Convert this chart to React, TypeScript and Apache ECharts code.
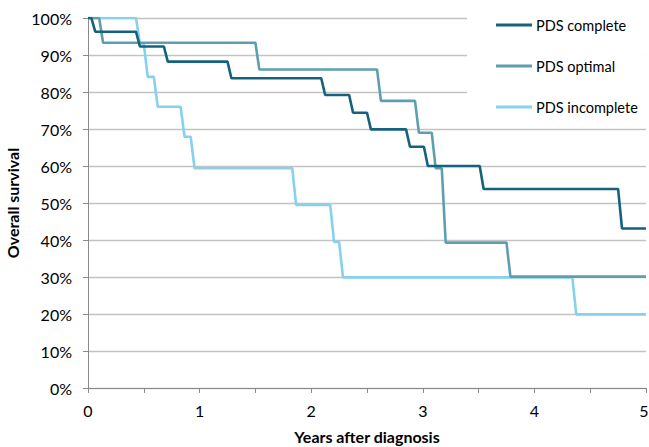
import React, { useEffect, useRef } from "react";
import * as echarts from "echarts";

// Kaplan-Meier step data: time of each drop (years) and survival (%) after it
const completeTimes = [0, 0.03, 0.43, 0.68, 1.25, 2.09, 2.34, 2.5, 2.85, 3.01, 3.51, 4.75];
const completeValues = [100, 96.3, 92.3, 88.2, 83.7, 79.2, 74.4, 69.9, 65.2, 60.0, 53.8, 43.1];

const optimalTimes = [0, 0.1, 1.5, 2.59, 2.93, 3.08, 3.17, 3.75];
const optimalValues = [100, 93.3, 86.1, 77.6, 69.0, 59.4, 39.3, 30.1];

const incompleteTimes = [0, 0.43, 0.5, 0.59, 0.83, 0.92, 1.83, 2.17, 2.25, 4.34];
const incompleteValues = [100, 93.1, 84.1, 76.0, 67.9, 59.4, 49.5, 39.5, 29.9, 19.9];

const seriesNames = ["PDS complete", "PDS optimal", "PDS incomplete"];
const seriesColors = ["#14627d", "#5d9fb1", "#86d1ee"];
const xMax = 5;
const dropWidth = 0.035;

function toSteps(times: number[], values: number[]): number[][] {
  const pts: number[][] = [[times[0], values[0]]];
  for (let i = 1; i < times.length; i++) {
    pts.push([times[i], values[i - 1]]);
    pts.push([times[i] + dropWidth, values[i]]);
  }
  pts.push([xMax, values[values.length - 1]]);
  return pts;
}

const FONT = "Lato, 'Open Sans', sans-serif";

export default function App() {
  const ref = useRef<HTMLDivElement>(null);
  useEffect(() => {
    const chart = echarts.init(ref.current!, null, { renderer: "svg" });
    const datasets = [
      toSteps(completeTimes, completeValues),
      toSteps(optimalTimes, optimalValues),
      toSteps(incompleteTimes, incompleteValues),
    ];
    chart.setOption({
      animation: false,
      textStyle: { fontFamily: FONT },
      grid: {
        left: 88,
        right: 3,
        top: 18,
        bottom: 59,
        containLabel: false,
        outerBoundsMode: "none",
      },
      legend: {
        orient: "vertical",
        left: 467,
        top: 0,
        padding: [15, 8, 8, 29],
        itemGap: 21,
        itemWidth: 36,
        itemHeight: 3,
        icon: "rect",
        backgroundColor: "#ffffff",
        data: seriesNames,
        textStyle: {
          fontSize: 14.5,
          color: "#000",
          fontFamily: FONT,
          lineHeight: 20,
          padding: [0, 0, 0, -1],
        },
      },
      xAxis: {
        type: "value",
        min: 0,
        max: xMax,
        interval: 0.5,
        name: "Years after diagnosis",
        nameLocation: "middle",
        nameGap: 40,
        nameTextStyle: { fontSize: 16, fontWeight: "bold", color: "#000", fontFamily: FONT },
        axisLine: { show: true, lineStyle: { color: "#8a8a8a", width: 1 } },
        axisTick: { show: true, length: 5, lineStyle: { color: "#8a8a8a" } },
        axisLabel: {
          fontSize: 16,
          color: "#000",
          margin: 14,
          formatter: (v: number) =>
            Number.isInteger(v) ? (v === xMax ? `{last|${v}}` : String(v)) : "",
          rich: {
            last: { fontSize: 16, color: "#000", fontFamily: FONT, padding: [0, 4, 0, 0] },
          },
        },
        splitLine: { show: false },
      },
      yAxis: {
        type: "value",
        min: 0,
        max: 100,
        interval: 10,
        name: "Overall survival",
        nameLocation: "middle",
        nameGap: 62,
        nameTextStyle: { fontSize: 16, fontWeight: "bold", color: "#000", fontFamily: FONT },
        axisLine: { show: true, lineStyle: { color: "#8a8a8a", width: 1 } },
        axisTick: { show: true, length: 5, lineStyle: { color: "#8a8a8a" } },
        axisLabel: { fontSize: 16, color: "#000", margin: 16, formatter: "{value}%" },
        splitLine: { show: true, lineStyle: { color: "#c3c3c3", width: 1.3 } },
      },
      series: seriesNames.map((name, i) => ({
        name,
        type: "line",
        data: datasets[i],
        symbol: "none",
        color: seriesColors[i],
        lineStyle: { width: 2.6, color: seriesColors[i] },
        z: 3 - i,
      })),
    });
    return () => chart.dispose();
  }, []);
  return (
    <div
      ref={ref}
      style={{ position: "fixed", left: 0, top: 0, width: 649, height: 447, background: "#fff" }}
    />
  );
}
